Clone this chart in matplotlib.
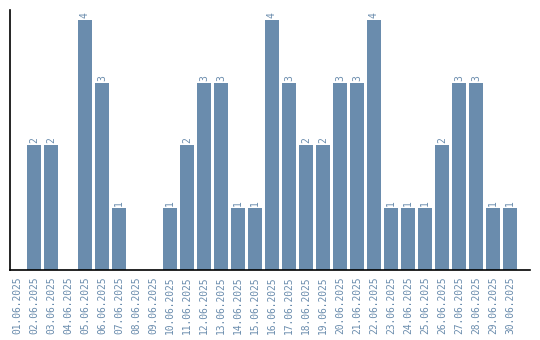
import numpy as np
import matplotlib.pyplot as plt

dias = [f'{d:02d}.06.2025' for d in range(1, 31)]
valores = [0, 2, 2, 0, 4, 3, 1, 0, 0, 1, 2, 3, 3, 1, 1,
           4, 3, 2, 2, 3, 3, 4, 1, 1, 1, 2, 3, 3, 1, 1]

cor = '#6a8cad'

fig = plt.figure(figsize=(5.4, 3.4), dpi=100)
ax = fig.add_axes([10 / 540, 70 / 340, 520 / 540, 260 / 340])

x = np.arange(len(dias))
barras = ax.bar(x, valores, width=0.82, color=cor)

# rótulos só nas barras com valor
for xi, v in zip(x, valores):
    if v > 0:
        ax.text(xi, v + 0.03, str(v), rotation=90, ha='center', va='bottom',
                color=cor, fontsize=6.9, family='DejaVu Sans Mono')

ax.set_xlim(-0.41, 30.18)
ax.set_ylim(0, 4.16)
ax.set_xticks(x)
ax.set_xticklabels(dias, rotation=90, color=cor, fontsize=6.9, family='DejaVu Sans Mono')
ax.tick_params(axis='x', length=0, pad=5)
ax.set_yticks([])
ax.spines['top'].set_visible(False)
ax.spines['right'].set_visible(False)
ax.spines['left'].set_linewidth(1.2)
ax.spines['bottom'].set_linewidth(1.2)

plt.savefig('out.png', dpi=100)
